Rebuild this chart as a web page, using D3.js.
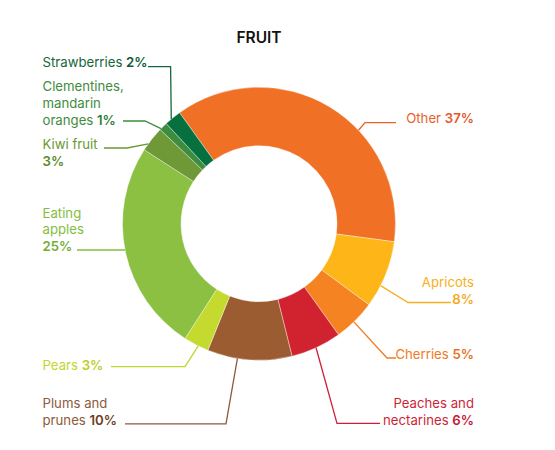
<!DOCTYPE html>
<html>
<head>
<meta charset="utf-8">
<script src="https://cdn.jsdelivr.net/npm/d3@7"></script>
<style>
  html, body { margin: 0; padding: 0; background: #fff; }
  svg { display: block; font-family: Inter, "Noto Sans", sans-serif; }
</style>
</head>
<body>
<svg id="chart" width="555" height="450"></svg>
<script>
// ---- data ----
const title = "FRUIT";
const categories = ["Other", "Apricots", "Cherries", "Peaches and nectarines", "Plums and prunes",
  "Pears", "Eating apples", "Kiwi fruit", "Clementines, mandarin oranges", "Strawberries"];
const values = [37, 8, 5, 6, 10, 3, 25, 3, 1, 2];
const sliceColors = ["#F07125", "#FDB518", "#F58322", "#D1222F", "#9A5C30",
  "#C5DA2F", "#8BC043", "#6E9936", "#3C8D3F", "#06713F"];
const labelColors = ["#E9612A", "#F8B020", "#F07B22", "#CE1F38", "#8E5A3B",
  "#C2D62E", "#85BD3F", "#6A9830", "#3E8C40", "#15663A"];
const pctColors = ["#E4572A", "#F4A91D", "#E9701E", "#C41A33", "#6E3D22",
  "#B9CE26", "#74AD35", "#5A8A28", "#2F7D36", "#0D5A31"];

// ---- layout (annotation placement, not data) ----
const W = 555, H = 450;
const cx = 259, cy = 223.7, rOuter = 136.5, rInner = 78;
const startDeg = -35.6;
// per category: text lines (percent appended to last line), anchor side, text x, last baseline,
// leader angle on the ring (deg, clockwise from top), elbow and end of leader
const labelLayout = [
  { lines: ["Other"], anchor: "end", x: 474, y: 123, ang: 46.8, elbow: [365, 122.7], end: [396, 122.7] },
  { lines: ["Apricots", ""], anchor: "end", x: 474, y: 304, ang: 117, elbow: [408, 302.5], end: [451, 302.5] },
  { lines: ["Cherries"], anchor: "end", x: 474, y: 359, ang: 136, elbow: [387, 358], end: [396, 358] },
  { lines: ["Peaches and", "nectarines"], anchor: "end", x: 474, y: 424.5, ang: 155.3, elbow: [337, 423.3], end: [380, 423.3] },
  { lines: ["Plums and", "prunes"], anchor: "start", x: 42.5, y: 424.5, ang: 189.1, elbow: [226, 423.8], end: [125, 423.8] },
  { lines: ["Pears"], anchor: "start", x: 42.5, y: 369.5, ang: 206.4, elbow: [185, 366.7], end: [111, 366.7] },
  { lines: ["Eating", "apples", ""], anchor: "start", x: 42.5, y: 251, ang: 258.9, elbow: null, end: [77, 250] },
  { lines: ["Kiwi fruit", ""], anchor: "start", x: 42.5, y: 166, ang: -54.2, elbow: [127, 148], end: [104, 148] },
  { lines: ["Clementines,", "mandarin", "oranges"], anchor: "start", x: 42.5, y: 124.5, ang: -45.9, elbow: [145, 121], end: [123, 121] },
  { lines: ["Strawberries"], anchor: "start", x: 42.5, y: 67, ang: -40, elbow: [170.6, 66.7], end: [148, 66.7] }
];
const lineHeight = 16.6;

const svg = d3.select("#chart");
const rad = d => d * Math.PI / 180;

// title
svg.append("text")
  .attr("x", cx).attr("y", 43)
  .attr("text-anchor", "middle")
  .attr("font-size", 15.5).attr("font-weight", 600)
  .attr("fill", "#111")
  .text(title);

const data = categories.map((c, i) => ({ name: c, value: values[i], i }));
const pie = d3.pie().sort(null).value(d => d.value)
  .startAngle(rad(startDeg)).endAngle(rad(startDeg + 360));
const arc = d3.arc().innerRadius(rInner).outerRadius(rOuter);
const arcs = pie(data);

const g = svg.append("g").attr("transform", `translate(${cx},${cy})`);
g.selectAll("path.slice").data(arcs).join("path")
  .attr("class", "slice")
  .attr("d", arc)
  .attr("fill", d => sliceColors[d.data.i])
  .attr("stroke", "#fff").attr("stroke-opacity", 0.6).attr("stroke-width", 0.6);

// leader lines
const ringPoint = a => [cx + rOuter * Math.sin(rad(a)), cy - rOuter * Math.cos(rad(a))];
svg.append("g").selectAll("polyline").data(arcs).join("polyline")
  .attr("points", d => {
    const L = labelLayout[d.data.i];
    const pts = [ringPoint(L.ang)];
    if (L.elbow) pts.push(L.elbow);
    pts.push(L.end);
    return pts.map(p => p.join(",")).join(" ");
  })
  .attr("fill", "none")
  .attr("stroke", d => labelColors[d.data.i])
  .attr("stroke-width", 1.3);

// labels
const lab = svg.append("g").attr("font-size", 13.2);
arcs.forEach(d => {
  const i = d.data.i, L = labelLayout[i];
  const n = L.lines.length;
  L.lines.forEach((ln, k) => {
    const y = L.y - (n - 1 - k) * lineHeight;
    const isLast = k === n - 1;
    const t = lab.append("text").attr("text-anchor", L.anchor)
      .attr("x", L.x).attr("y", y);
    if (ln) t.append("tspan").attr("fill", labelColors[i]).text(isLast ? ln + " " : ln);
    if (isLast) {
      t.append("tspan").attr("fill", pctColors[i]).attr("font-weight", 600)
        .text(d.data.value + "%");
    }
  });
});
</script>
</body>
</html>
